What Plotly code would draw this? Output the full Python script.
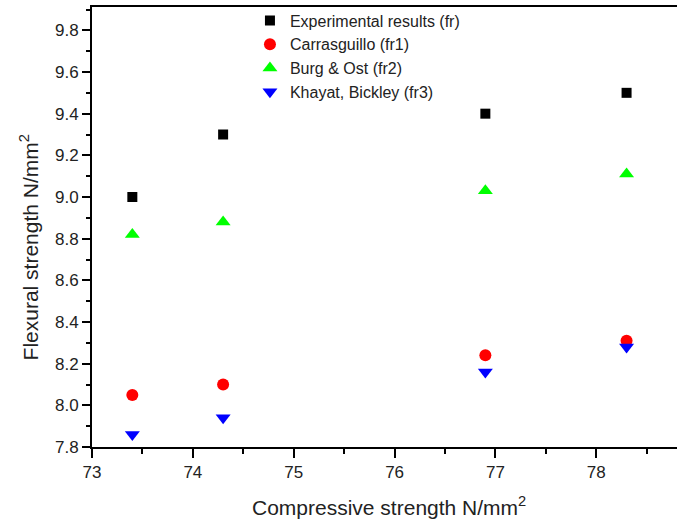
import plotly.graph_objects as go

compressive = [73.4, 74.3, 76.9, 78.3]
experimental = [9.0, 9.3, 9.4, 9.5]
carrasguillo = [8.05, 8.10, 8.24, 8.31]
burg_ost = [8.82, 8.88, 9.03, 9.11]
khayat_bickley = [7.86, 7.94, 8.16, 8.28]

series = [
    ("Experimental results (fr)", experimental, "square", "#000000", 10),
    ("Carrasguillo (fr1)", carrasguillo, "circle", "#ff0000", 12),
    ("Burg & Ost (fr2)", burg_ost, "triangle-up", "#00ff00", 13),
    ("Khayat, Bickley (fr3)", khayat_bickley, "triangle-down", "#0000ff", 13),
]

fig = go.Figure()
for name, vals, sym, col, sz in series:
    fig.add_trace(go.Scatter(
        x=compressive, y=vals, mode="markers", name=name,
        marker=dict(symbol=sym, color=col, size=sz, line=dict(width=0)),
    ))

font_family = "Liberation Sans, Arial, sans-serif"
fig.update_layout(
    width=677, height=522,
    margin=dict(l=92, r=0, t=7, b=75),
    paper_bgcolor="white", plot_bgcolor="white",
    font=dict(family=font_family, size=17, color="#222222"),
    showlegend=True,
    legend=dict(x=0.27, y=1.008, xanchor="left", yanchor="top",
                font=dict(size=16, color="#222222"), bgcolor="rgba(0,0,0,0)",
                tracegroupgap=0),
    xaxis=dict(range=[73, 78.8], showgrid=False, zeroline=False,
               showline=True, linecolor="#000000", linewidth=2, mirror=True,
               ticks="outside", ticklen=9, tickwidth=2, tickcolor="#000000",
               dtick=1, tick0=73,
               minor=dict(ticks="outside", ticklen=5, tickwidth=2, tickcolor="#000000", dtick=0.5),
               tickfont=dict(size=17)),
    yaxis=dict(range=[7.8, 9.912], showgrid=False, zeroline=False,
               showline=True, linecolor="#000000", linewidth=2, mirror=False,
               ticks="outside", ticklen=8, tickwidth=2, tickcolor="#000000",
               dtick=0.2, tick0=7.8, tickformat=".1f",
               minor=dict(ticks="outside", ticklen=4, tickwidth=2, tickcolor="#000000", dtick=0.1),
               tickfont=dict(size=17)),
    annotations=[
        dict(text="Compressive strength N/mm<sup>2</sup>", xref="paper", yref="paper",
             x=0.5085, y=-0.134, xanchor="center", yanchor="middle",
             showarrow=False, font=dict(size=21, color="#222222")),
        dict(text="Flexural strength N/mm<sup>2</sup>", xref="paper", yref="paper",
             x=-0.107, y=0.4545, xanchor="center", yanchor="middle", textangle=-90,
             showarrow=False, font=dict(size=21, color="#222222")),
    ],
)

fig.write_html(
    "out.html",
    config={"displayModeBar": False},
    post_script="document.body.style.margin='0';document.body.style.overflow='hidden';",
)
